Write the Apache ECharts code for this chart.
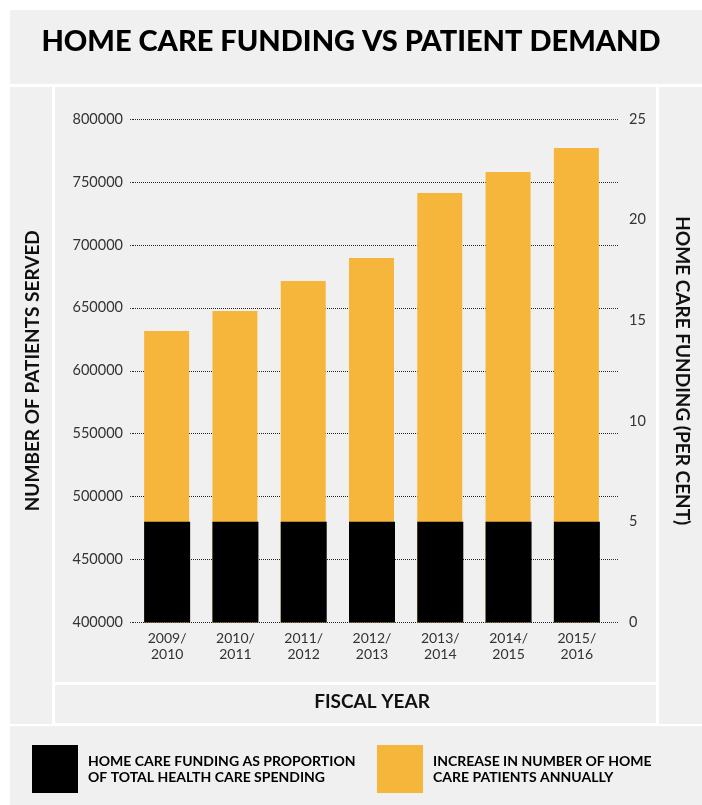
<!DOCTYPE html>
<html>
<head>
<meta charset="utf-8">
<style>
  html, body { margin: 0; padding: 0; background: #fff; }
  #chart { width: 702px; height: 805px; }
</style>
<script src="https://cdn.jsdelivr.net/npm/echarts@6/dist/echarts.min.js"></script>
</head>
<body>
<div id="chart"></div>
<script>
// datos
var years = ['2009/\n2010', '2010/\n2011', '2011/\n2012', '2012/\n2013', '2013/\n2014', '2014/\n2015', '2015/\n2016'];
var patients = [631500, 647500, 671300, 689600, 741200, 757900, 777000];
var funding = [5, 5, 5, 5, 5, 5, 5];

var nameFunding = 'HOME CARE FUNDING AS PROPORTION OF TOTAL HEALTH CARE SPENDING';
var namePatients = 'INCREASE IN NUMBER OF HOME CARE PATIENTS ANNUALLY';

var gris = '#f0f0f0';
var naranja = '#f6b63c';
var fuente = 'Lato, "DejaVu Sans", sans-serif';

// paneles grises con separaciones blancas
const paneles = () => {
    var r = [
        [10, 10, 692, 74],   // título
        [10, 87, 42, 637],   // eje izquierdo
        [55, 87, 601, 595],  // gráfico
        [55, 685, 601, 38],  // año fiscal
        [659, 87, 43, 637],  // eje derecho
        [10, 726, 692, 79]   // leyenda
    ];
    return r.map(function (p) {
        return { type: 'rect', silent: true, z: -10,
                 shape: { x: p[0], y: p[1], width: p[2], height: p[3] },
                 style: { fill: gris } };
    });
};

var chart = echarts.init(document.getElementById('chart'));
chart.setOption({
    backgroundColor: '#fff',
    animation: false,
    graphic: paneles(),
    title: {
        text: 'HOME CARE FUNDING VS PATIENT DEMAND',
        left: 'center',
        top: 27,
        padding: 0,
        textStyle: { fontFamily: fuente, fontWeight: 900, fontSize: 29, color: '#000' }
    },
    legend: [
        {
            data: [nameFunding], left: 32, top: 745, padding: 0,
            itemWidth: 46, itemHeight: 48, itemGap: 12, icon: 'rect',
            formatter: function () { return 'HOME CARE FUNDING AS PROPORTION\nOF TOTAL HEALTH CARE SPENDING'; },
            textStyle: { fontFamily: fuente, fontWeight: 'bold', fontSize: 14, lineHeight: 16, color: '#000', padding: [0, 0, 0, 5] }
        },
        {
            data: [namePatients], left: 377, top: 745, padding: 0,
            itemWidth: 46, itemHeight: 48, itemGap: 12, icon: 'rect',
            formatter: function () { return 'INCREASE IN NUMBER OF HOME\nCARE PATIENTS ANNUALLY'; },
            textStyle: { fontFamily: fuente, fontWeight: 'bold', fontSize: 14, lineHeight: 16, color: '#000', padding: [0, 0, 0, 5] }
        }
    ],
    grid: { left: 133, right: 91, top: 119, bottom: 182.5 },
    xAxis: {
        type: 'category',
        data: years,
        name: 'FISCAL YEAR',
        nameLocation: 'middle',
        nameGap: 70,
        nameTextStyle: { fontFamily: fuente, fontWeight: 'bold', fontSize: 19, color: '#111' },
        axisLine: { show: false },
        axisTick: { show: false },
        axisLabel: { fontFamily: fuente, fontSize: 14, lineHeight: 16, color: '#333', margin: 8 }
    },
    yAxis: [
        {
            type: 'value',
            min: 400000, max: 800000, interval: 50000,
            name: 'NUMBER OF PATIENTS SERVED',
            nameLocation: 'middle',
            nameGap: 91,
            nameTextStyle: { fontFamily: fuente, fontWeight: 'bold', fontSize: 19, color: '#111' },
            axisLine: { show: false },
            axisTick: { show: true, length: 3, lineStyle: { color: '#333', type: 'dotted' } },
            axisLabel: {
                fontFamily: fuente, fontSize: 14.5, color: '#333', margin: 10,
                formatter: function (v) { return String(v); }
            },
            splitLine: { show: true, lineStyle: { color: '#222', type: 'dotted', width: 1 } }
        },
        {
            type: 'value',
            position: 'right',
            min: 0, max: 25, interval: 5,
            name: 'HOME CARE FUNDING (PER CENT)',
            nameLocation: 'middle',
            nameRotate: -90,
            nameGap: 62,
            nameTextStyle: { fontFamily: fuente, fontWeight: 'bold', fontSize: 19, color: '#111' },
            axisLine: { show: false },
            axisTick: { show: false },
            axisLabel: { fontFamily: fuente, fontSize: 14.5, color: '#333', margin: 18 },
            splitLine: { show: false }
        },
        {
            // solo para prolongar las líneas punteadas a la derecha
            type: 'value',
            position: 'right',
            min: 400000, max: 800000, interval: 50000,
            axisLine: { show: false },
            axisTick: { show: true, length: 8, lineStyle: { color: '#333', type: 'dotted' } },
            axisLabel: { show: false },
            splitLine: { show: false }
        }
    ],
    series: [
        {
            name: namePatients,
            type: 'bar',
            yAxisIndex: 0,
            barWidth: 45,
            itemStyle: { color: naranja },
            data: patients
        },
        {
            name: nameFunding,
            type: 'bar',
            yAxisIndex: 1,
            barWidth: 46,
            barGap: '-100%',
            itemStyle: { color: '#000' },
            data: funding
        }
    ]
});
</script>
</body>
</html>
